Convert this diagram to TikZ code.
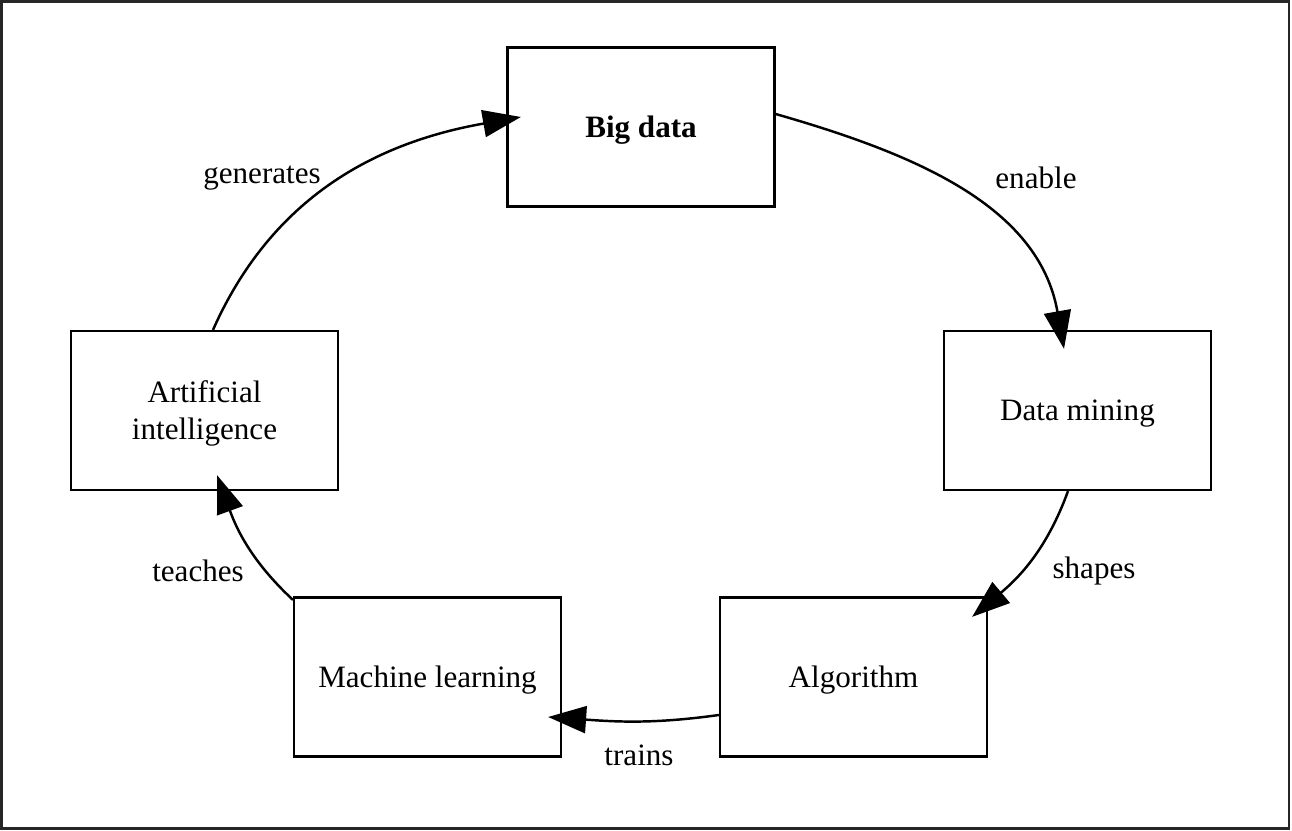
\documentclass[tikz,border=0pt]{standalone}
\usepackage{fontspec}
\setmainfont{Liberation Serif}
\usetikzlibrary{arrows.meta}
\tikzset{
    box/.style={rectangle, draw, line width=1.3pt, minimum width=5.34cm, minimum height=3.18cm, align=center, inner sep=0mm, text depth=0pt, font=\fontsize{17.7}{21}\selectfont}
}
\tikzset{lbl/.style={inner sep=0mm, font=\fontsize{17.7}{21}\selectfont}}
\tikzset{flow/.style={line width=1.4pt, -{Triangle[length=0.76cm, width=0.54cm]}}}

\begin{document}
\begin{tikzpicture}[x=0.02cm, y=0.02cm]
        \useasboundingbox (0,0) rectangle (1292,831);
        \draw[line width=1.6pt, black!85] (1.5,829.5) rectangle (1289,2.5);
        \node (big) [box, font=\fontsize{17.7}{21}\selectfont\bfseries] at (641,704) {Big data};
        \node (mining) [box] at (1077.5,420.5) {Data mining};
        \node (algo) [box] at (853.5,154) {Algorithm};
        \node (ml) [box] at (427.5,154) {Machine learning};
        \node (ai) [box] at (204.5,420.5) {Artificial\\intelligence};
        \node (lgen) [lbl] at (262,653) {generates};
        \node (lena) [lbl] at (1036,653) {enable};
        \node (lsha) [lbl] at (1094,260) {shapes};
        \node (ltra) [lbl] at (639,76) {trains};
        \node (ltea) [lbl] at (198,260) {teaches};
        \draw[flow] ([shift={(8.5,0)}]ai.north) to[out=66, in=190] ([shift={(14.5,10)}]big.west);
        \draw[flow] ([shift={(0,13)}]big.east) to[out=-16, in=100] ([shift={(-13.5,-19)}]mining.north);
        \draw[flow] ([shift={(-9.5,0)}]mining.south) to[out=-110, in=40] ([shift={(-16,-20.5)}]algo.north east);
        \draw[flow] ([shift={(0,-38)}]algo.west) to[out=188, in=-4] ([shift={(-14,-40)}]ml.east);
        \draw[flow] ([shift={(0,-3.5)}]ml.north west) to[out=137, in=-70] ([shift={(12.5,16)}]ai.south);
\end{tikzpicture}
\end{document}
